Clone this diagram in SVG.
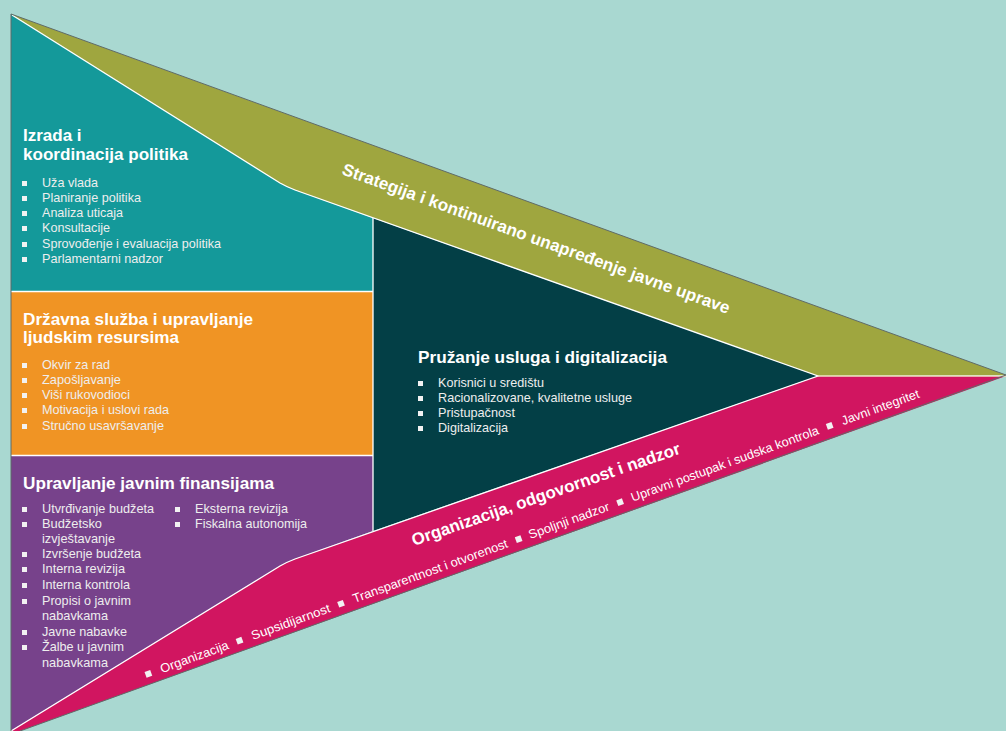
<svg xmlns="http://www.w3.org/2000/svg" width="1006" height="731" viewBox="0 0 1006 731">
<style>
.h{font-family:"Liberation Sans",Arial,sans-serif;font-weight:bold;font-size:17px;fill:#ffffff}
.l{font-family:"Liberation Sans",Arial,sans-serif;font-size:13.5px;fill:#eeeeee}
.s{font-family:"Liberation Sans",Arial,sans-serif;font-size:12.5px;fill:#ffffff}
.b{fill:#f2f2f2}
.sep{stroke:#ffffff;stroke-width:1.3;fill:none}
</style>
<defs>
<rect id="sq" width="5" height="5"/>
<rect id="sq6" width="6" height="6"/>
</defs>
<rect width="1006" height="731" fill="#A9D8D1"/>

<g id="policy">
<path d="M11,14 L280,183 Q287,187 295,190 L373,218 L373,291 L11,291 Z" fill="#14999A"/>
<text class="h" x="23" y="141">Izrada i</text>
<text class="h" x="23" y="160" textLength="165" lengthAdjust="spacingAndGlyphs">koordinacija politika</text>
<g class="b">
<use href="#sq" x="22" y="181"/><use href="#sq" x="22" y="196"/><use href="#sq" x="22" y="211"/><use href="#sq" x="22" y="226"/><use href="#sq" x="22" y="242"/><use href="#sq" x="22" y="257"/>
</g>
<text class="l" x="42" y="187" textLength="56" lengthAdjust="spacingAndGlyphs">Uža vlada</text>
<text class="l" x="42" y="202" textLength="99" lengthAdjust="spacingAndGlyphs">Planiranje politika</text>
<text class="l" x="42" y="217" textLength="81" lengthAdjust="spacingAndGlyphs">Analiza uticaja</text>
<text class="l" x="42" y="232" textLength="68" lengthAdjust="spacingAndGlyphs">Konsultacije</text>
<text class="l" x="42" y="248" textLength="179" lengthAdjust="spacingAndGlyphs">Sprovođenje i evaluacija politika</text>
<text class="l" x="42" y="263" textLength="121" lengthAdjust="spacingAndGlyphs">Parlamentarni nadzor</text>
</g>

<g id="civil-service">
<rect x="11" y="292" width="362" height="164" fill="#F09424"/>
<text class="h" x="23" y="325" textLength="230" lengthAdjust="spacingAndGlyphs">Državna služba i upravljanje</text>
<text class="h" x="23" y="343" textLength="156" lengthAdjust="spacingAndGlyphs">ljudskim resursima</text>
<g class="b">
<use href="#sq" x="22" y="363"/><use href="#sq" x="22" y="378"/><use href="#sq" x="22" y="393"/><use href="#sq" x="22" y="408"/><use href="#sq" x="22" y="424"/>
</g>
<text class="l" x="42" y="369" textLength="68" lengthAdjust="spacingAndGlyphs">Okvir za rad</text>
<text class="l" x="42" y="384" textLength="79" lengthAdjust="spacingAndGlyphs">Zapošljavanje</text>
<text class="l" x="42" y="399" textLength="88" lengthAdjust="spacingAndGlyphs">Viši rukovodioci</text>
<text class="l" x="42" y="414" textLength="127" lengthAdjust="spacingAndGlyphs">Motivacija i uslovi rada</text>
<text class="l" x="42" y="430" textLength="122" lengthAdjust="spacingAndGlyphs">Stručno usavršavanje</text>
</g>

<g id="finance">
<path d="M11,456 L373,456 L373,531 L295,559 Q287,562 280,566 L11,731 Z" fill="#77428B"/>
<text class="h" x="23" y="489" textLength="251" lengthAdjust="spacingAndGlyphs">Upravljanje javnim finansijama</text>
<g class="b">
<use href="#sq" x="22" y="507"/><use href="#sq" x="22" y="522"/><use href="#sq" x="22" y="552"/><use href="#sq" x="22" y="567"/><use href="#sq" x="22" y="583"/><use href="#sq" x="22" y="599"/><use href="#sq" x="22" y="630"/><use href="#sq" x="22" y="645"/>
<use href="#sq" x="175" y="507"/><use href="#sq" x="175" y="522"/>
</g>
<text class="l" x="42" y="513" textLength="112" lengthAdjust="spacingAndGlyphs">Utvrđivanje budžeta</text>
<text class="l" x="42" y="528" textLength="60" lengthAdjust="spacingAndGlyphs">Budžetsko</text>
<text class="l" x="42" y="543" textLength="73" lengthAdjust="spacingAndGlyphs">izvještavanje</text>
<text class="l" x="42" y="558" textLength="99" lengthAdjust="spacingAndGlyphs">Izvršenje budžeta</text>
<text class="l" x="42" y="573" textLength="83" lengthAdjust="spacingAndGlyphs">Interna revizija</text>
<text class="l" x="42" y="589" textLength="88" lengthAdjust="spacingAndGlyphs">Interna kontrola</text>
<text class="l" x="42" y="605" textLength="89" lengthAdjust="spacingAndGlyphs">Propisi o javnim</text>
<text class="l" x="42" y="620" textLength="66" lengthAdjust="spacingAndGlyphs">nabavkama</text>
<text class="l" x="42" y="636" textLength="85" lengthAdjust="spacingAndGlyphs">Javne nabavke</text>
<text class="l" x="42" y="651" textLength="82" lengthAdjust="spacingAndGlyphs">Žalbe u javnim</text>
<text class="l" x="42" y="667" textLength="66" lengthAdjust="spacingAndGlyphs">nabavkama</text>
<text class="l" x="195" y="513" textLength="93" lengthAdjust="spacingAndGlyphs">Eksterna revizija</text>
<text class="l" x="195" y="528" textLength="112" lengthAdjust="spacingAndGlyphs">Fiskalna autonomija</text>
</g>

<g id="service-delivery">
<path d="M373,218 L818,376 L373,531 Z" fill="#033F46"/>
<text class="h" x="418" y="363" textLength="249" lengthAdjust="spacingAndGlyphs">Pružanje usluga i digitalizacija</text>
<g class="b">
<use href="#sq" x="418" y="381"/><use href="#sq" x="418" y="396"/><use href="#sq" x="418" y="411"/><use href="#sq" x="418" y="426"/>
</g>
<text class="l" x="438" y="387" textLength="106" lengthAdjust="spacingAndGlyphs">Korisnici u središtu</text>
<text class="l" x="438" y="402" textLength="194" lengthAdjust="spacingAndGlyphs">Racionalizovane, kvalitetne usluge</text>
<text class="l" x="438" y="417" textLength="77" lengthAdjust="spacingAndGlyphs">Pristupačnost</text>
<text class="l" x="438" y="432" textLength="70" lengthAdjust="spacingAndGlyphs">Digitalizacija</text>
</g>

<g id="strategy">
<path d="M11,14 L1006,375 L818,376 L295,190 Q287,187 280,183 Z" fill="#9FA63F"/>
<text class="h" transform="translate(341,174) rotate(19.9)" textLength="411" lengthAdjust="spacingAndGlyphs">Strategija i kontinuirano unapređenje javne uprave</text>
</g>

<g id="accountability">
<path d="M818,376 L1006,376 L20,731 L11,731 L280,566 Q287,562 295,559 Z" fill="#D11560"/>
<text class="h" transform="translate(414,546) rotate(-19.1)" textLength="283" lengthAdjust="spacingAndGlyphs">Organizacija, odgovornost i nadzor</text>
<g transform="translate(146,679) rotate(-20)">
<g class="b">
<use href="#sq6" x="1" y="-7"/><use href="#sq6" x="98" y="-7"/><use href="#sq6" x="206" y="-7"/><use href="#sq6" x="395" y="-7"/><use href="#sq6" x="503" y="-7"/><use href="#sq6" x="726" y="-7"/>
</g>
<text class="s" x="17" y="0" textLength="72" lengthAdjust="spacingAndGlyphs">Organizacija</text>
<text class="s" x="114" y="0" textLength="83" lengthAdjust="spacingAndGlyphs">Supsidijarnost</text>
<text class="s" x="222" y="0" textLength="164" lengthAdjust="spacingAndGlyphs">Transparentnost i otvorenost</text>
<text class="s" x="409" y="0" textLength="85" lengthAdjust="spacingAndGlyphs">Spoljnji nadzor</text>
<text class="s" x="518" y="0" textLength="199" lengthAdjust="spacingAndGlyphs">Upravni postupak i sudska kontrola</text>
<text class="s" x="742" y="0" textLength="82" lengthAdjust="spacingAndGlyphs">Javni integritet</text>
</g>
</g>

<g id="connectors">
<path class="sep" d="M11,291.5 L373,291.5 M11,455.5 L373,455.5 M373,218 L373,531"/>
<path class="sep" d="M12,15 L280,183 Q287,187 295,190 L818,376 L295,559 Q287,562 280,566 L11,731"/>
<path d="M818,376 L1006,376" stroke="#EFE6C4" stroke-width="1.5" fill="none"/>
<path d="M11,731 L11,14 L1006,375 L20,731" stroke="#5F6B68" stroke-width="1" fill="none"/>
</g>
</svg>
